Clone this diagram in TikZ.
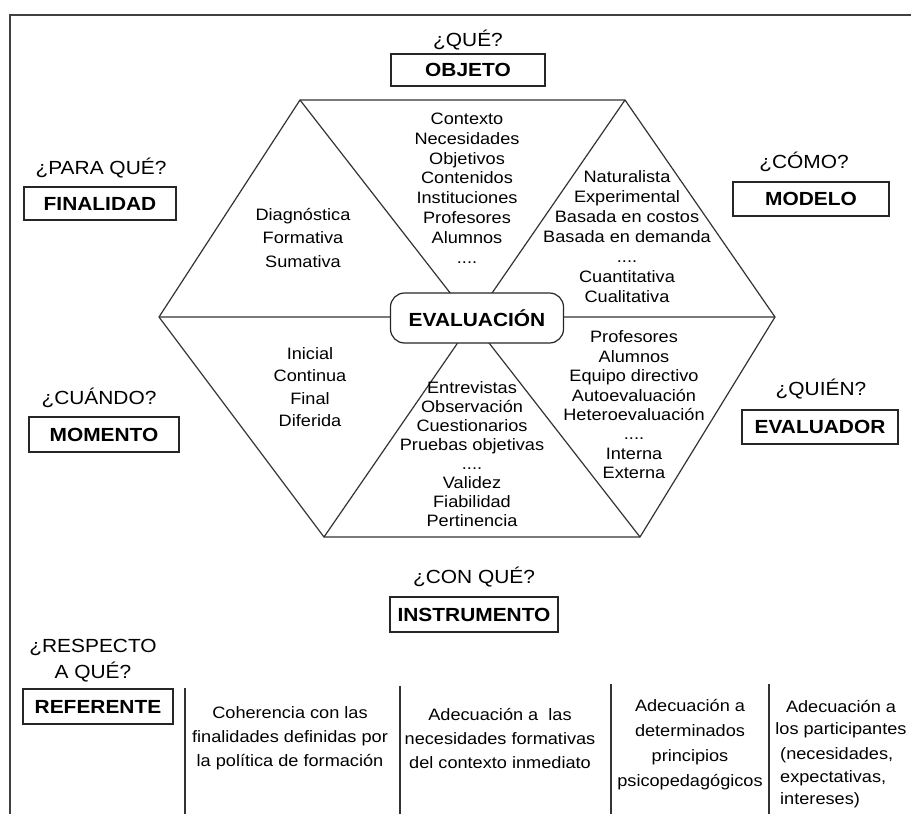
\documentclass[tikz,border=0pt]{standalone}
\usepackage{fontspec}
\setmainfont{Liberation Sans}[FakeStretch=1.1]
\usepackage{tikz}
\usetikzlibrary{positioning}

\newcommand{\txtsz}[1]{\fontsize{16.5}{#1}\selectfont}
\newcommand{\asksz}{\fontsize{19}{26}\selectfont}
\newcommand{\tagsz}{\fontsize{19}{23}\selectfont\bfseries}

\begin{document}
\begin{tikzpicture}[x=1pt,y=-1pt,
    edge/.style={draw=black!80,line width=1.2pt},
    tag/.style={draw=black!85,line width=1.2pt,font=\tagsz,inner sep=0pt},
    ask/.style={font=\asksz,align=center,inner sep=0pt},
    list/.style={align=center,inner sep=0pt}]
    \useasboundingbox (0,0) rectangle (911,814);
    \draw[line width=2pt,black!75] (10,814) -- (10,15) -- (911,15);
    \coordinate (tl) at (300,100);
    \coordinate (tr) at (625,100);
    \coordinate (r) at (775,317);
    \coordinate (br) at (640,537);
    \coordinate (bl) at (324,537);
    \coordinate (l) at (159,317);
    \draw[edge] (tl) -- (tr) -- (r) -- (br) -- (bl) -- (l) -- cycle;
    \draw[edge] (l) -- (r) (tl) -- (br) (tr) -- (bl);
    \node[draw=black!85,line width=1.2pt,fill=white,rounded corners=14pt,minimum width=173pt,minimum height=50pt,font=\tagsz] (eval) at (477,318) {EVALUACIÓN};
    \node[list,font=\txtsz{19.8}] (objlist) at (467,188) {Contexto\\Necesidades\\Objetivos\\Contenidos\\Instituciones\\Profesores\\Alumnos\\....};
    \node[list,font=\txtsz{23.5}] (finlist) at (303,238) {Diagnóstica\\Formativa\\Sumativa};
    \node[list,font=\txtsz{20}] (modlist) at (627,237) {Naturalista\\Experimental\\Basada en costos\\Basada en demanda\\....\\Cuantitativa\\Cualitativa};
    \node[list,font=\txtsz{22.3}] (momlist) at (310,387) {Inicial\\Continua\\Final\\Diferida};
    \node[list,font=\txtsz{19}] (inslist) at (472,454) {Entrevistas\\Observación\\Cuestionarios\\Pruebas objetivas\\....\\Validez\\Fiabilidad\\Pertinencia};
    \node[list,font=\txtsz{19.4}] (evalist) at (634,405) {Profesores\\Alumnos\\Equipo directivo\\Autoevaluación\\Heteroevaluación\\....\\Interna\\Externa};
    \node[ask] (qobj) at (468,40) {¿QUÉ?};
    \node[tag,minimum width=154pt,minimum height=32pt] (objeto) at (468,70) {OBJETO};
    \node[ask] (qfin) at (101,168) {¿PARA QUÉ?};
    \node[tag,minimum width=152pt,minimum height=33pt] (finalidad) at (100,203.5) {FINALIDAD};
    \node[ask] (qmod) at (804,162) {¿CÓMO?};
    \node[tag,minimum width=156pt,minimum height=34pt] (modelo) at (811,199) {MODELO};
    \node[ask] (qmom) at (99,398) {¿CUÁNDO?};
    \node[tag,minimum width=150pt,minimum height=35pt] (momento) at (104,434.5) {MOMENTO};
    \node[ask] (qeva) at (821,389) {¿QUIÉN?};
    \node[tag,minimum width=156pt,minimum height=34pt] (evaluador) at (820,427) {EVALUADOR};
    \node[ask] (qins) at (474,577) {¿CON QUÉ?};
    \node[tag,minimum width=168pt,minimum height=35pt] (instrumento) at (474,614.5) {INSTRUMENTO};
    \node[ask] (qref) at (93,661) {¿RESPECTO\\A QUÉ?};
    \node[tag,minimum width=150pt,minimum height=35pt] (referente) at (98,706.5) {REFERENTE};
    \foreach \x/\t in {185/688,400/686,611/684,769/684}
        \draw[edge] (\x,\t) -- (\x,814);
    \node[list,font=\txtsz{24}] (ref1) at (290,738) {Coherencia con las\\finalidades definidas por\\la política de formación};
    \node[list,font=\txtsz{24}] (ref2) at (500,738) {Adecuación a~ las\\necesidades formativas\\del contexto inmediato};
    \node[list,font=\txtsz{25}] (ref3) at (690,745) {Adecuación a\\determinados\\principios\\psicopedagógicos};
    \node[list,font=\txtsz{22}] (ref4) at (841,719) {Adecuación a\\los participantes};
    \node[list,font=\txtsz{22.5},align=left,anchor=west] (ref5) at (780,778) {(necesidades,\\expectativas,\\intereses)};
\end{tikzpicture}
\end{document}
